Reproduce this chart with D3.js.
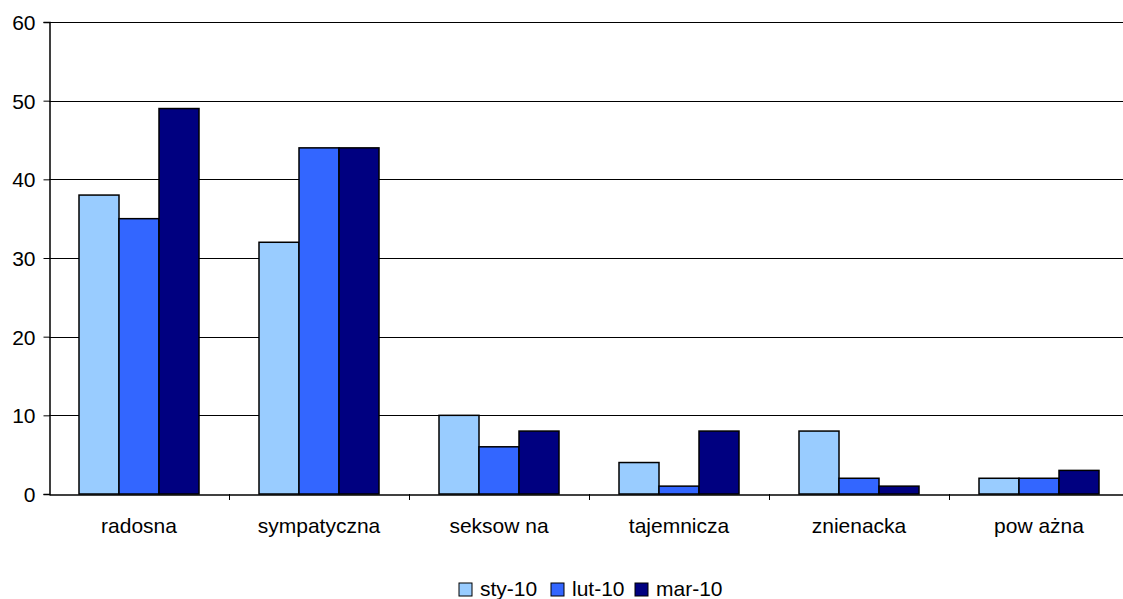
<!DOCTYPE html>
<html><head><meta charset="utf-8">
<script src="https://cdn.jsdelivr.net/npm/d3@7/dist/d3.min.js"></script>
<style>body{margin:0;background:#fff}svg{display:block}text{font-family:"Liberation Sans",Arial,sans-serif;fill:#000}</style>
</head><body><svg id="c" width="1123" height="599"></svg>
<script>
const categories = ["radosna","sympatyczna","seksow na","tajemnicza","znienacka","pow ażna"];
const seriesNames = ["sty-10","lut-10","mar-10"];
const sty10 = [38,32,10,4,8,2];
const lut10 = [35,44,6,1,2,2];
const mar10 = [49,44,8,8,1,3];
const yTicks = [0,10,20,30,40,50,60];
const colors = ["#99CCFF","#3366FF","#000080"];
const series = [sty10,lut10,mar10];

const FS = 21;
const svg = d3.select("#c");
const L=49, R=1129, T=22, B=494;
const x = d3.scaleBand().domain(categories).range([L,R]).paddingInner(0).paddingOuter(0);
const xs = d3.scaleBand().domain(seriesNames).range([0,x.bandwidth()]).paddingInner(0).paddingOuter(0.75);
const y = d3.scaleLinear().domain([0,60]).range([B,T]);

// gridlines
svg.append("g").selectAll("line").data(yTicks.filter(d=>d>0)).join("line")
  .attr("x1",L).attr("x2",R).attr("y1",d=>Math.round(y(d))+0.5).attr("y2",d=>Math.round(y(d))+0.5)
  .attr("stroke","#000").attr("stroke-width",1);

// bars
const g = svg.append("g");
series.forEach((s,si)=>{
  g.selectAll(null).data(categories).join("rect")
    .attr("x",c=>x(c)+xs(seriesNames[si]))
    .attr("y",(c,i)=>y(s[i]))
    .attr("width",xs.bandwidth())
    .attr("height",(c,i)=>B-y(s[i]))
    .attr("fill",colors[si]).attr("stroke","#000").attr("stroke-width",1.5);
});

// y axis
const ya = svg.append("g").attr("transform",`translate(${L+0.5},0)`)
  .call(d3.axisLeft(y).tickValues(yTicks).tickSize(6).tickPadding(8).tickFormat(d3.format("d")));
ya.attr("font-size",FS).attr("font-family","Liberation Sans, Arial, sans-serif");
ya.select(".domain").attr("stroke","#000").attr("stroke-width",1.5);
ya.selectAll(".tick line").attr("stroke","#000");
ya.selectAll("text").attr("dy","0.36em");

// x axis
const xa = svg.append("g").attr("transform",`translate(0,${B+0.5})`)
  .call(d3.axisBottom(x).tickSize(0).tickPadding(0));
xa.attr("font-size",FS).attr("font-family","Liberation Sans, Arial, sans-serif");
xa.select(".domain").attr("stroke","#000").attr("stroke-width",1.5);
xa.selectAll(".tick text").attr("dy",0).attr("y",38);
// category boundary ticks
svg.append("g").selectAll("line").data(categories.slice(1)).join("line")
  .attr("x1",c=>Math.round(x(c))+0.5).attr("x2",c=>Math.round(x(c))+0.5)
  .attr("y1",B).attr("y2",B+6).attr("stroke","#000");

// legend
const legX = [459,551,635];
const leg = svg.append("g");
seriesNames.forEach((n,i)=>{
  leg.append("rect").attr("x",legX[i]).attr("y",583).attr("width",13).attr("height",13)
    .attr("fill",colors[i]).attr("stroke","#000").attr("stroke-width",1);
  leg.append("text").attr("x",legX[i]+21).attr("y",596).attr("font-size",FS).text(n);
});
</script></body></html>
